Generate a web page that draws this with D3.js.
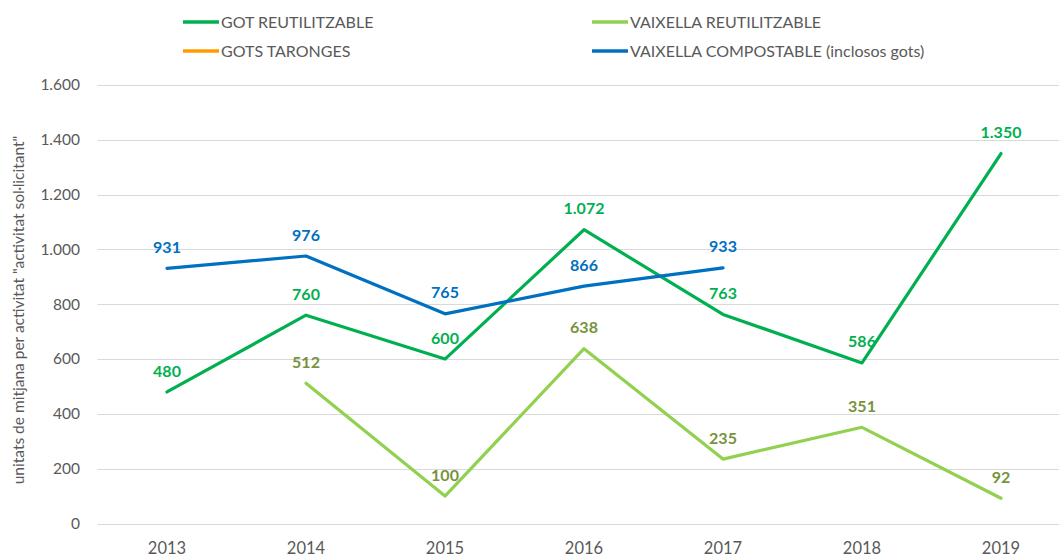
<!DOCTYPE html>
<html>
<head>
<meta charset="utf-8">
<script src="https://cdn.jsdelivr.net/npm/d3@7"></script>
<style>
  body { margin: 0; background: #fff; }
  svg { display: block; font-family: Lato, "Open Sans", sans-serif; }
</style>
</head>
<body>
<div id="chart"></div>
<script>
// Daten
const anys = ["2013", "2014", "2015", "2016", "2017", "2018", "2019"];
const gotReutilitzable = [480, 760, 600, 1072, 763, 586, 1350];
const vaixellaReutilitzable = [null, 512, 100, 638, 235, 351, 92];
const gotsTaronges = [null, null, null, null, null, null, null];
const vaixellaCompostable = [931, 976, 765, 866, 933, null, null];
const yTicks = [0, 200, 400, 600, 800, 1000, 1200, 1400, 1600];

const series = [
  { label: "GOT REUTILITZABLE", values: gotReutilitzable, color: "#00b050", labelColor: "#00b050" },
  { label: "VAIXELLA REUTILITZABLE", values: vaixellaReutilitzable, color: "#92d050", labelColor: "#77933c" },
  { label: "GOTS TARONGES", values: gotsTaronges, color: "#ff9a00", labelColor: "#ff9a00" },
  { label: "VAIXELLA COMPOSTABLE (inclosos gots)", values: vaixellaCompostable, color: "#0070c0", labelColor: "#0070c0" },
];

const width = 1059, height = 558;
const margin = { left: 97.5, right: -11.5, top: 85, bottom: 34.5 };

const svg = d3.select("#chart").append("svg")
  .attr("width", width)
  .attr("height", height);

const x = d3.scaleBand()
  .domain(anys)
  .range([margin.left, width - margin.right]);

const y = d3.scaleLinear()
  .domain([0, 1600])
  .range([height - margin.bottom, margin.top]);

const fmt = d3.formatLocale({ decimal: ",", thousands: ".", grouping: [3], currency: ["", "€"] }).format(",.0f");

// Gridlines
svg.append("g")
  .selectAll("line")
  .data(yTicks)
  .join("line")
  .attr("x1", margin.left)
  .attr("x2", width)
  .attr("y1", d => Math.round(y(d)) + 0.5)
  .attr("y2", d => Math.round(y(d)) + 0.5)
  .attr("stroke", "#d9d9d9")
  .attr("stroke-width", 1);

// Y tick labels
svg.append("g")
  .selectAll("text")
  .data(yTicks)
  .join("text")
  .attr("x", 80)
  .attr("y", d => y(d))
  .attr("dy", "0.35em")
  .attr("text-anchor", "end")
  .attr("font-size", 15.5)
  .attr("fill", "#595959")
  .text(d => fmt(d));

// X tick labels
svg.append("g")
  .selectAll("text")
  .data(anys)
  .join("text")
  .attr("x", d => x(d) + x.bandwidth() / 2)
  .attr("y", 548)
  .attr("dy", "0.35em")
  .attr("text-anchor", "middle")
  .attr("font-size", 16.5)
  .attr("fill", "#595959")
  .text(d => d);

// Y axis title
svg.append("text")
  .attr("transform", `translate(19, 310) rotate(-90)`)
  .attr("text-anchor", "middle")
  .attr("dy", "0.35em")
  .attr("font-size", 15.5)
  .attr("fill", "#595959")
  .text("unitats de mitjana per activitat \"activitat sol·licitant\"");

// Linien
const line = d3.line()
  .defined(d => d.v != null)
  .x(d => x(d.year) + x.bandwidth() / 2)
  .y(d => y(d.v));

series.forEach(s => {
  const pts = anys.map((year, i) => ({ year, v: s.values[i] }));
  svg.append("path")
    .datum(pts)
    .attr("fill", "none")
    .attr("stroke", s.color)
    .attr("stroke-width", 3.2)
    .attr("stroke-linejoin", "round")
    .attr("stroke-linecap", "round")
    .attr("d", line);
});

// Datenlabels
series.forEach(s => {
  const pts = anys.map((year, i) => ({ year, v: s.values[i] })).filter(d => d.v != null);
  svg.append("g")
    .selectAll("text")
    .data(pts)
    .join("text")
    .attr("x", d => x(d.year) + x.bandwidth() / 2)
    .attr("y", d => y(d.v) - 21)
    .attr("dy", "0.35em")
    .attr("text-anchor", "middle")
    .attr("font-size", 16)
    .attr("font-weight", "bold")
    .attr("fill", s.labelColor)
    .text(d => fmt(d.v));
});

// Legende
const legendPos = [
  { x: 183, y: 22 }, { x: 592, y: 22 },
  { x: 183, y: 51 }, { x: 592, y: 51 },
];
const legend = svg.append("g")
  .selectAll("g")
  .data(series)
  .join("g")
  .attr("transform", (d, i) => `translate(${legendPos[i].x},${legendPos[i].y})`);

legend.append("line")
  .attr("x1", 0).attr("x2", 36)
  .attr("stroke", d => d.color)
  .attr("stroke-width", 3.5);

legend.append("text")
  .attr("x", 38)
  .attr("dy", "0.35em")
  .attr("font-size", 16)
  .attr("fill", "#595959")
  .text(d => d.label);
</script>
</body>
</html>
